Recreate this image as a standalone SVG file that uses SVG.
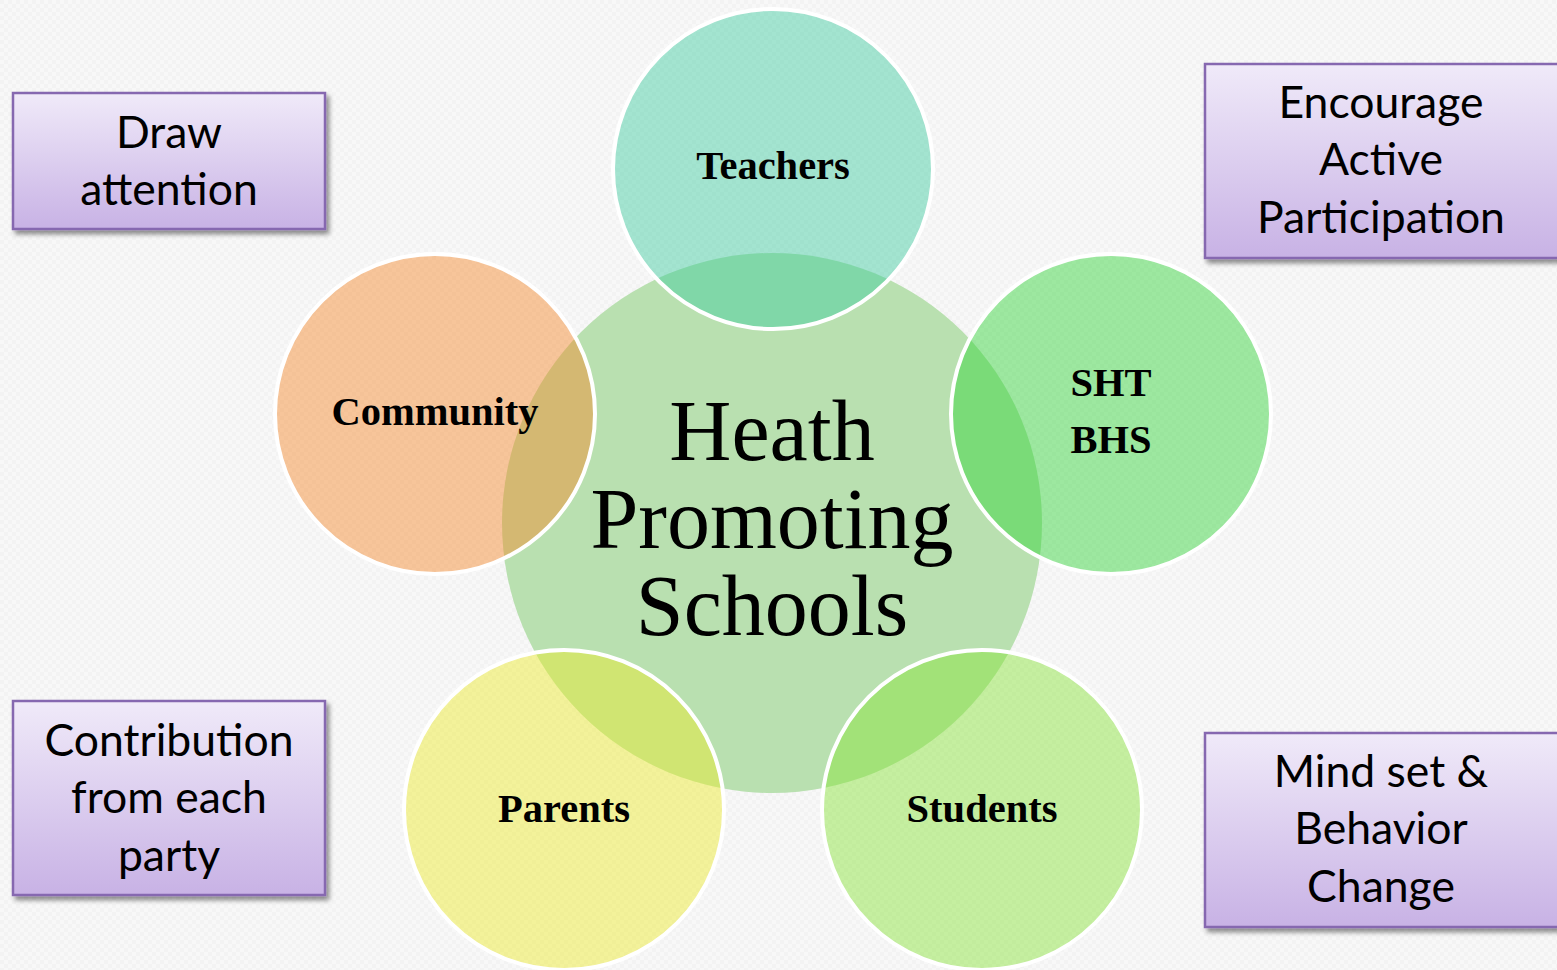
<svg xmlns="http://www.w3.org/2000/svg" width="1557" height="970" viewBox="0 0 1557 970">
<defs>
<linearGradient id="boxg" x1="0" y1="0" x2="0" y2="1">
<stop offset="0" stop-color="#f0eaf9"/>
<stop offset="1" stop-color="#c8b2e5"/>
</linearGradient>
<filter id="sh" x="-10%" y="-10%" width="130%" height="130%">
<feGaussianBlur in="SourceAlpha" stdDeviation="2.5"/>
<feOffset dx="3" dy="4" result="b"/>
<feComponentTransfer><feFuncA type="linear" slope="0.45"/></feComponentTransfer>
<feMerge><feMergeNode/><feMergeNode in="SourceGraphic"/></feMerge>
</filter>
<pattern id="bgp" width="8" height="8" patternUnits="userSpaceOnUse">
<rect width="8" height="8" fill="#f8f8f8"/>
<rect width="4" height="4" fill="#f3f3f3"/>
<rect x="4" y="4" width="4" height="4" fill="#f3f3f3"/>
</pattern>
</defs>
<style>
.box{fill:url(#boxg);stroke:#8667b0;stroke-width:2.5;filter:url(#sh)}
.bt{font-family:Lato,"Open Sans",sans-serif;font-size:44.5px;fill:#000;text-anchor:middle}
.sat{stroke:#fff;stroke-width:4;fill-opacity:0.45}
.lab{font-family:"Liberation Serif","Times New Roman",serif;font-weight:bold;font-size:40.5px;fill:#000;text-anchor:middle}
.ct{font-family:"Liberation Serif","Times New Roman",serif;font-size:86px;fill:#000;text-anchor:middle}
</style>
<rect width="1557" height="970" fill="url(#bgp)"/>
<g id="center">
<circle cx="772" cy="523" r="270" fill="#b9e0b0"/>
</g>
<g id="teachers">
<circle class="sat" cx="773" cy="169" r="160" fill="#3bcb9f"/>
<text class="lab" x="773" y="179">Teachers</text>
</g>
<g id="community">
<circle class="sat" cx="435" cy="414" r="160" fill="#f68729"/>
<text class="lab" x="435" y="425">Community</text>
</g>
<g id="sht">
<circle class="sat" cx="1111" cy="414" r="160" fill="#2ed435"/>
<text class="lab" x="1111" y="396">SHT</text>
<text class="lab" x="1111" y="453">BHS</text>
</g>
<g id="parents">
<circle class="sat" cx="564" cy="810" r="160" fill="#edeb27"/>
<text class="lab" x="564" y="822">Parents</text>
</g>
<g id="students">
<circle class="sat" cx="982" cy="810" r="160" fill="#87e435"/>
<text class="lab" x="982" y="822">Students</text>
</g>
<g id="center-label">
<text class="ct" x="772" y="460">Heath</text>
<text class="ct" x="772" y="548">Promoting</text>
<text class="ct" x="772" y="635">Schools</text>
</g>
<g id="box-draw">
<rect class="box" x="13" y="93" width="312" height="136"/>
<text class="bt" x="169" y="148">Draw</text>
<text class="bt" x="169" y="205">attention</text>
</g>
<g id="box-encourage">
<rect class="box" x="1205" y="64" width="356" height="194"/>
<text class="bt" x="1381" y="118">Encourage</text>
<text class="bt" x="1381" y="175">Active</text>
<text class="bt" x="1381" y="233">Participation</text>
</g>
<g id="box-contribution">
<rect class="box" x="13" y="701" width="312" height="194"/>
<text class="bt" x="169" y="756">Contribution</text>
<text class="bt" x="169" y="813">from each</text>
<text class="bt" x="169" y="871">party</text>
</g>
<g id="box-mindset">
<rect class="box" x="1205" y="733" width="356" height="194"/>
<text class="bt" x="1381" y="787">Mind set &amp;</text>
<text class="bt" x="1381" y="844">Behavior</text>
<text class="bt" x="1381" y="902">Change</text>
</g>
<g id="connectors"/>
</svg>
